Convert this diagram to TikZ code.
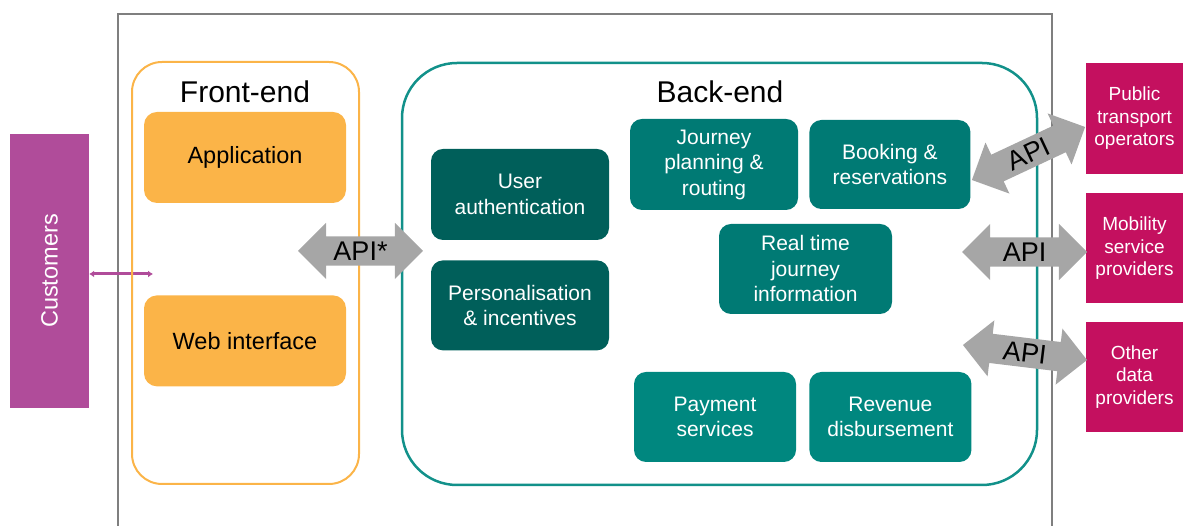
\documentclass[tikz,border=0pt]{standalone}
\usepackage{fontspec}
\setmainfont{Liberation Sans}
\usepackage{tikz}
\usetikzlibrary{arrows.meta, positioning, shapes.arrows}
\usepackage{xcolor}
\definecolor{framegray}{RGB}{127,127,127}
\definecolor{feorange}{RGB}{251,180,72}
\definecolor{beteal}{RGB}{18,145,138}
\definecolor{darkteal}{RGB}{0,95,90}
\definecolor{midteal}{RGB}{0,122,116}
\definecolor{lightteal}{RGB}{0,135,127}
\definecolor{custpurple}{RGB}{176,76,154}
\definecolor{partnerred}{RGB}{196,16,95}
\definecolor{apigray}{RGB}{166,166,166}

\begin{document}
\begin{tikzpicture}[x=1pt, y=1pt,
        container/.style={rectangle, minimum width=227pt, minimum height=422pt, inner sep=0pt},
        febox/.style={rectangle, fill=feorange, rounded corners=13pt, minimum width=202pt,
                      minimum height=91pt, align=center, inner sep=0pt,
                      font=\fontsize{23.5}{28}\selectfont},
        bebox/.style={rectangle, rounded corners=12pt, minimum height=90pt, align=center,
                      text=white, inner sep=0pt, font=\fontsize{21}{25.5}\selectfont},
        partner/.style={rectangle, fill=partnerred, minimum width=97pt, minimum height=110pt,
                        align=center, text=white, inner sep=0pt, font=\fontsize{19}{22.5}\selectfont},
        heading/.style={inner sep=0pt, font=\fontsize{30}{30}\selectfont},
        api/.style={double arrow, fill=apigray, minimum height=125pt, double arrow head extend=13.5pt,
                    inner xsep=0pt, inner ysep=4.75pt, text height=19.5pt, text depth=0pt,
                    font=\fontsize{27}{27}\selectfont},
        link/.style={{Latex[length=5pt,width=7pt]}-{Latex[length=5pt,width=7pt]},
                     line width=3pt, custpurple},
    ]
        \useasboundingbox (0,0) rectangle (1183,526);

        % Cadre du système
        \draw[framegray, line width=1.3pt] (118,0) |- (1052,512) -- (1052,0);

        % Clients
        \node[rectangle, fill=custpurple, minimum width=79pt, minimum height=274pt, inner sep=0pt,
              text=white, font=\fontsize{23.5}{28}\selectfont] (cust) at (49.5,255)
            {\rotatebox{90}{Customers}};
        \coordinate (feport) at (153,252);
        \draw[link] (cust.east |- feport) -- (feport);

        % Front-end
        \node[container, draw=feorange, line width=2pt, rounded corners=30pt] (front) at (245.5,253) {};
        \node[heading] (fetitle) at (245,434) {Front-end};
        \node[febox] (app) at (245,368.5) {Application};
        \node[febox, below=92pt of app] (web) {Web interface};

        % Back-end
        \node[container, draw=beteal, line width=2.5pt, minimum width=635pt,
              rounded corners=55pt] (back) at (719.5,252) {};
        \node[heading] (betitle) at (720,434) {Back-end};

        \node[bebox, fill=darkteal, minimum width=178pt, minimum height=91pt] (auth) at (520,331.5)
            {User\\authentication};
        \node[bebox, fill=darkteal, minimum width=178pt, below=20pt of auth] (perso)
            {Personalisation\\\& incentives};

        \node[bebox, fill=midteal, minimum width=168pt, minimum height=91pt] (journey) at (714,361.5)
            {Journey\\planning \&\\routing};
        \node[bebox, fill=midteal, minimum width=161pt, minimum height=89pt, right=11pt of journey] (booking)
            {Booking \&\\reservations};
        \node[bebox, fill=midteal, minimum width=173pt] (realtime) at (805.5,257)
            {Real time\\journey\\information};

        \node[bebox, fill=lightteal, minimum width=162pt] (payment) at (715,109)
            {Payment\\services};
        \node[bebox, fill=lightteal, minimum width=162pt, right=13pt of payment] (revenue)
            {Revenue\\disbursement};

        % Partenaires externes
        \node[partner, minimum height=111pt] (pto) at (1134.5,407.5)
            {Public\\transport\\operators};
        \node[partner, below=19pt of pto] (msp)
            {Mobility\\service\\providers};
        \node[partner, below=18pt of msp] (odp)
            {Other\\data\\providers};

        % Interfaces API
        \node[api] (apife) at (360.5,275) {API*};
        \node[api, rotate=25.1] (apipto) at (1028.5,372.5) {API};
        \node[api] (apimsp) at (1024.5,274) {API};
        \node[api, rotate=-6.9] (apiodp) at (1025,173.5) {API};
    \end{tikzpicture}
\end{document}
